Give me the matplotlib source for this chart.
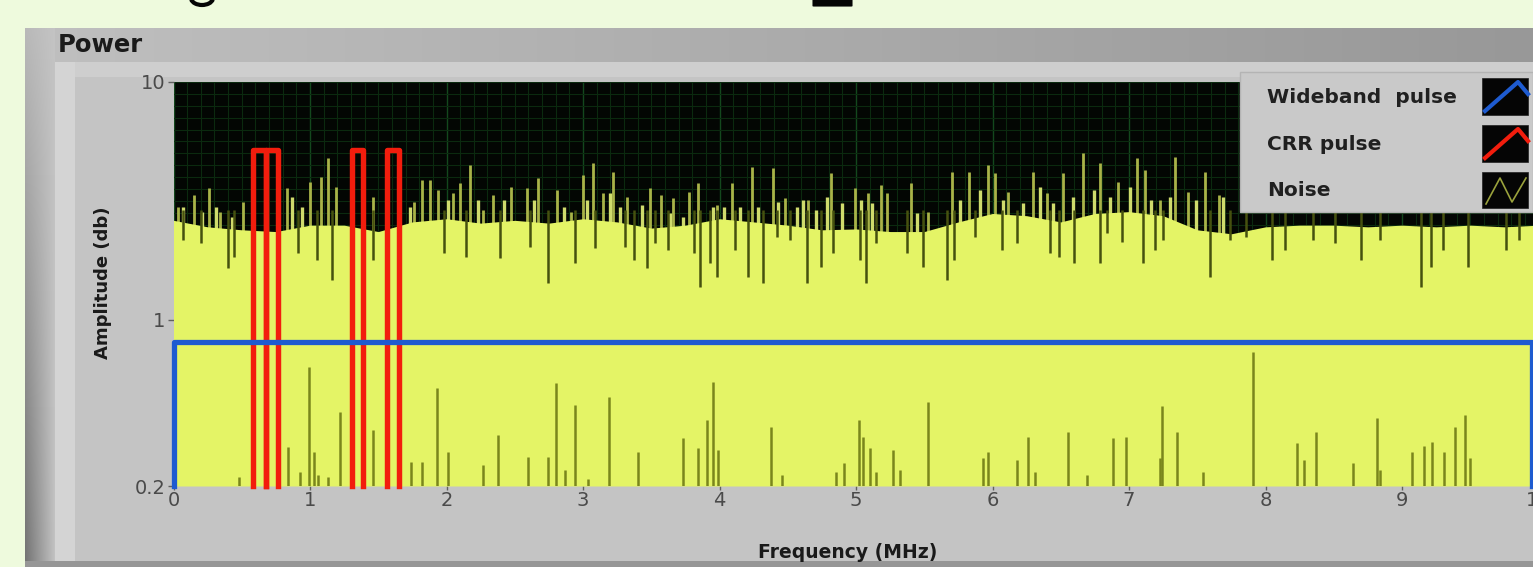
import numpy as np
import matplotlib
matplotlib.use("Agg")
import matplotlib.pyplot as plt
from matplotlib.patches import Rectangle, FancyBboxPatch, Arc
from matplotlib.lines import Line2D
from matplotlib.ticker import NullLocator, FixedLocator

# ---------------- data ----------------
x_ticks = [0, 1, 2, 3, 4, 5, 6, 7, 8, 9, 10]
y_ticks = [0.2, 1, 10]
y_tick_labels = ["0.2", "1", "10"]

# noise: main body level (top of the yellow fill), every 0.25 MHz
body_freq = [0.0, 0.25, 0.5, 0.75, 1.0, 1.25, 1.5, 1.75, 2.0, 2.25, 2.5, 2.75, 3.0, 3.25,
             3.5, 3.75, 4.0, 4.25, 4.5, 4.75, 5.0, 5.25, 5.5, 5.75, 6.0, 6.25, 6.5, 6.75,
             7.0, 7.25, 7.5, 7.75, 8.0, 8.25, 8.5, 8.75, 9.0, 9.25, 9.5, 9.75, 10.0]
body_amp = [2.62, 2.46, 2.39, 2.35, 2.50, 2.50, 2.35, 2.58, 2.66, 2.55, 2.62, 2.55, 2.66, 2.58,
            2.43, 2.50, 2.66, 2.58, 2.50, 2.39, 2.41, 2.35, 2.35, 2.58, 2.80, 2.74, 2.58, 2.80,
            2.85, 2.74, 2.39, 2.30, 2.46, 2.50, 2.50, 2.46, 2.50, 2.46, 2.50, 2.46, 2.50]

# noise: tall upward spikes (frequency, peak amplitude)
spike_freq = [0.03, 0.15, 0.26, 0.34, 0.51, 0.83, 1.00, 1.08, 1.13, 1.19, 1.46, 1.76, 1.82,
              1.88, 1.94, 2.05, 2.10, 2.17, 2.27, 2.34, 2.47, 2.59, 2.67, 2.81, 2.91, 3.00,
              3.07, 3.15, 3.22, 3.32, 3.49, 3.57, 3.66, 3.78, 3.84, 3.98, 4.09, 4.24, 4.39,
              4.48, 4.65, 4.82, 4.99, 5.09, 5.18, 5.23, 5.40, 5.53, 5.70, 5.83, 5.97, 6.02,
              6.11, 6.30, 6.40, 6.52, 6.66, 6.79, 6.92, 7.06, 7.12, 7.23, 7.34, 7.43, 7.56, 7.66]
spike_amp = [2.98, 3.35, 3.59, 2.84, 3.13, 3.59, 3.80, 3.99, 4.79, 3.62, 3.29, 3.13, 3.87,
             3.87, 3.52, 3.42, 3.76, 4.48, 2.90, 3.35, 3.62, 3.59, 3.95, 3.52, 2.84, 4.07,
             4.57, 3.42, 4.19, 3.29, 3.59, 3.35, 3.25, 3.45, 3.76, 3.04, 3.76, 4.39, 4.35,
             3.25, 3.19, 4.15, 3.59, 3.42, 3.69, 3.42, 3.76, 2.84, 4.19, 4.19, 4.48, 4.15,
             3.45, 4.19, 3.42, 4.15, 5.03, 4.57, 3.80, 4.79, 4.27, 3.19, 4.84, 3.45, 4.19, 3.35]

# noise: smaller upward spikes (frequency, peak amplitude)
small_freq = [0.07, 0.21, 0.31, 0.43, 0.87, 0.94, 1.73, 2.01, 2.23, 2.42, 2.64, 2.86, 3.03,
              3.20, 3.27, 3.43, 3.64, 3.73, 3.95, 4.03, 4.15, 4.28, 4.43, 4.57, 4.61, 4.71,
              4.79, 4.90, 5.04, 5.12, 5.45, 5.76, 5.91, 6.08, 6.22, 6.35, 6.44, 6.59, 6.74,
              6.86, 7.01, 7.16, 7.30, 7.49, 7.69]
small_amp = [2.98, 2.84, 2.98, 2.71, 3.29, 2.98, 2.98, 3.19, 3.19, 3.19, 3.19, 2.98, 3.19,
             3.42, 2.98, 3.04, 2.82, 2.71, 2.98, 2.98, 2.98, 2.98, 3.13, 2.98, 3.19, 2.90,
             3.29, 3.10, 3.19, 3.10, 2.82, 3.19, 3.52, 3.19, 3.10, 3.62, 3.10, 3.29, 3.52,
             3.29, 3.62, 3.19, 3.29, 3.19, 3.29]

# noise: downward dips (frequency, lowest amplitude)
dip_freq = [0.07, 0.20, 0.40, 0.44, 0.91, 1.05, 1.16, 1.46, 1.98, 2.14, 2.39, 2.61, 2.74,
            2.94, 3.09, 3.31, 3.37, 3.47, 3.53, 3.62, 3.81, 3.86, 3.93, 3.98, 4.11, 4.21,
            4.32, 4.42, 4.52, 4.64, 4.74, 4.83, 5.03, 5.07, 5.15, 5.37, 5.49, 5.67, 5.72,
            5.87, 6.07, 6.18, 6.42, 6.49, 6.60, 6.79, 6.84, 6.95, 7.10, 7.19, 7.25, 7.59,
            7.74, 7.86, 8.05, 8.14, 8.35, 8.51, 8.70, 8.84, 9.14, 9.21, 9.30, 9.48, 9.76, 9.86]
dip_amp = [2.17, 2.11, 1.65, 1.84, 1.91, 1.79, 1.47, 1.79, 1.91, 1.84, 1.82, 2.03, 1.43,
           1.74, 2.01, 2.03, 1.79, 1.65, 2.11, 1.97, 1.91, 1.38, 1.74, 1.52, 1.97, 1.52,
           1.43, 2.23, 2.17, 1.43, 1.67, 1.91, 1.79, 1.43, 2.11, 1.91, 1.67, 1.47, 1.79,
           2.23, 1.97, 2.11, 1.91, 1.84, 1.74, 1.74, 2.32, 2.13, 1.74, 1.97, 2.17, 1.52,
           2.17, 2.23, 1.79, 1.97, 2.17, 2.11, 1.79, 2.17, 1.38, 1.67, 1.97, 1.67, 1.97, 2.17]

# noise: deep dips seen as lines rising from the bottom (frequency, height)
low_freq = [0.48, 0.84, 0.93, 0.99, 1.03, 1.06, 1.13, 1.22, 1.46, 1.74, 1.82, 1.93, 2.01,
            2.27, 2.38, 2.60, 2.74, 2.80, 2.87, 2.94, 3.04, 3.19, 3.40, 3.73, 3.84, 3.91,
            3.95, 3.99, 4.38, 4.46, 4.85, 4.91, 5.02, 5.05, 5.10, 5.15, 5.27, 5.32, 5.53,
            5.93, 5.97, 6.18, 6.26, 6.31, 6.55, 6.69, 6.88, 6.98, 7.23, 7.24, 7.35, 7.54,
            7.91, 8.23, 8.28, 8.37, 8.64, 8.82, 8.84, 9.07, 9.16, 9.22, 9.31, 9.39, 9.46, 9.50]
low_amp = [0.219, 0.293, 0.228, 0.635, 0.279, 0.223, 0.219, 0.411, 0.345, 0.253, 0.253,
           0.518, 0.279, 0.246, 0.329, 0.266, 0.266, 0.544, 0.234, 0.440, 0.213, 0.475,
           0.279, 0.319, 0.290, 0.380, 0.549, 0.284, 0.355, 0.223, 0.230, 0.251, 0.380,
           0.322, 0.290, 0.230, 0.284, 0.234, 0.452, 0.263, 0.279, 0.258, 0.322, 0.228,
           0.338, 0.223, 0.319, 0.322, 0.263, 0.435, 0.338, 0.230, 0.734, 0.304, 0.258,
           0.338, 0.251, 0.388, 0.234, 0.279, 0.296, 0.307, 0.279, 0.355, 0.399, 0.263]

# CRR pulses (rectangles)
crr_left = [0.585, 0.679, 1.308, 1.564]
crr_right = [0.679, 0.766, 1.386, 1.649]
crr_amp = 5.2

# wideband pulse (rectangle)
wb_left, wb_right, wb_amp = 0.0, 9.95, 0.81

base_level = 0.2
legend_labels = ["Wideband  pulse", "CRR pulse", "Noise"]

# ---------------- styling ----------------
W, H = 1533, 567
YELLOW = "#e4f466"
RED = "#f21d0d"
BLUE = "#1e5bd0"
SPIKE = "#a9b348"
SMALL = "#cfdb6c"
DIP = "#46510f"
LOW = "#7a861c"


def fx(x):
    return x / W


def fy(y):
    return 1 - y / H


fig = plt.figure(figsize=(W / 100, H / 100), dpi=100)

# background panel
ys = np.arange(H)[:, None].astype(float)
xs = np.arange(W)[None, :].astype(float)
g = np.full((H, W), 196.0)
top = (ys >= 28) & (ys < 62)
g = np.where(top, 192 - 40 * xs / W, g)
band = (ys >= 62) & (ys < 77)
g = np.where(band, 206, g)
strip = (xs >= 55) & (xs < 75) & (ys >= 62)
g = np.where(strip, 212, g)
left = (xs >= 25) & (xs < 55) & (ys >= 28)
t = np.clip((xs - 25) / 30, 0, 1)
lc = 185 - 70 * (ys - 28) / 540
g = np.where(left, lc * (1 - t) + 196 * t, g)
g = np.where(ys >= 561, 150, g)
img = np.stack([g, g, g], axis=-1) / 255.0
outside = np.broadcast_to((xs < 25) | (ys < 28), (H, W))
img[outside] = np.array([238, 250, 221]) / 255.0
bgax = fig.add_axes([0, 0, 1, 1], zorder=-10)
bgax.imshow(img, extent=[0, 1, 0, 1], aspect="auto", interpolation="bilinear")
bgax.set_axis_off()

# main plot
ax = fig.add_axes([fx(173.5), fy(486), (1538.5 - 173.5) / W, (486 - 82) / H])
ax.set_facecolor("#030603")
ax.set_yscale("log")
ax.set_xlim(0, 10)
ax.set_ylim(0.2, 10)

# grid
for xv in np.arange(0, 10.01, 0.1):
    major = abs(xv - round(xv)) < 1e-6
    ax.axvline(xv, color="#13481d" if major else "#0b2a0f", lw=1.0 if major else 0.8, zorder=0.5)
for k in np.arange(-14, 21):
    ax.axhline(10 ** (k / 20), color="#0b2a0f", lw=0.8, zorder=0.5)

# upward spikes (only the part above the fill shows)
ax.vlines(spike_freq, 1.0, spike_amp, color=SPIKE, lw=2.0, zorder=1)
ax.vlines(small_freq, 1.0, small_amp, color=SMALL, lw=2.4, zorder=1.1)
# noise body
ax.fill_between(body_freq, base_level, body_amp, color=YELLOW, lw=0, zorder=2)
# dips
ax.vlines(dip_freq, dip_amp, 2.9, color=DIP, lw=1.8, zorder=3)
# deep dips from the bottom
ax.vlines(low_freq, base_level, low_amp, color=LOW, lw=1.8, zorder=3)

# CRR pulses
for l, r in zip(crr_left, crr_right):
    ax.plot([l, l, r, r], [base_level, crr_amp, crr_amp, base_level], color=RED, lw=3.9,
            solid_joinstyle="round", zorder=4, clip_on=False)
# wideband pulse
ax.plot([wb_left, wb_left, wb_right, wb_right], [base_level, wb_amp, wb_amp, base_level],
        color=BLUE, lw=3.8, zorder=5, clip_on=False)

for s in ax.spines.values():
    s.set_visible(False)
ax.xaxis.set_major_locator(FixedLocator(x_ticks))
ax.set_xticklabels([str(v) for v in x_ticks])
ax.yaxis.set_major_locator(FixedLocator(y_ticks))
ax.set_yticklabels(y_tick_labels)
ax.yaxis.set_minor_locator(NullLocator())
ax.tick_params(axis="both", direction="out", length=4, width=1, color="#606060",
               labelsize=14, labelcolor="#4a4a4a")
ax.tick_params(axis="x", pad=0.5, length=3)
ax.tick_params(axis="y", pad=2)

# titles / labels
fig.text(fx(58), fy(45), "Power", fontsize=17.5, fontweight="bold", color="#1a1a1a",
         ha="left", va="center")
fig.text(fx(103), fy(283), "Amplitude (db)", fontsize=13, fontweight="bold", color="#1a1a1a",
         rotation=90, ha="center", va="center")
fig.text(fx(848), fy(552), "Frequency (MHz)", fontsize=13.5, fontweight="bold", color="#1a1a1a",
         ha="center", va="center")

# legend
fig.add_artist(Rectangle((fx(1240), fy(212)), (W - 1240) / W, (212 - 72) / H,
                         transform=fig.transFigure, facecolor="#c9c9c9", edgecolor="#b4b4b4",
                         lw=1, zorder=6))
rows = [(78, 115), (125, 162), (172, 208)]
colors = [BLUE, RED, "#9aa23c"]
for (y0, y1), lab, c in zip(rows, legend_labels, colors):
    fig.add_artist(Rectangle((fx(1482), fy(y1)), 46 / W, (y1 - y0) / H,
                             transform=fig.transFigure, facecolor="#050505",
                             edgecolor="#202020", lw=0.5, zorder=7))
    if lab == "Noise":
        px = [1486, 1500, 1512, 1526]
        py = [y1 - 4, y0 + 6, y1 - 6, y0 + 6]
        lw = 1.2
    else:
        px = [1485, 1518, 1528]
        py = [y1 - 4, y0 + 4, y0 + 16]
        lw = 3.0
    fig.add_artist(Line2D([fx(p) for p in px], [fy(p) for p in py], transform=fig.transFigure,
                          color=c, lw=lw, zorder=8))
    fig.text(fx(1267), fy((y0 + y1) / 2 + 1), lab, fontsize=14.5, fontweight="bold",
             color="#202020", ha="left", va="center", zorder=8)

# cut-off slide title glyphs at the very top
fig.add_artist(FancyBboxPatch((fx(814), fy(6)), 37 / W, 12 / H, boxstyle="round,pad=0.001",
                              transform=fig.transFigure, facecolor="#050505",
                              edgecolor="none", zorder=8))
fig.add_artist(Arc((fx(202), fy(-2)), 22 / W, 14 / H, theta1=200, theta2=340,
                   transform=fig.transFigure, color="#050505", lw=3, zorder=8))

fig.savefig("out.png", dpi=100)
